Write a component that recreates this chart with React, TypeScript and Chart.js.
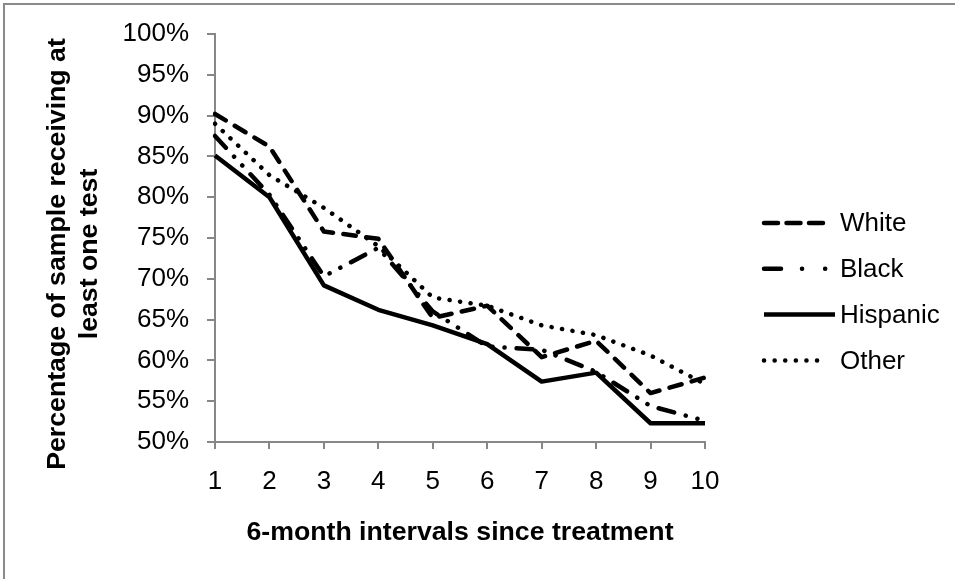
import React, { useEffect, useRef } from "react";
import { Chart, registerables } from "chart.js";

Chart.register(...registerables);

const CATEGORIES = ["1", "2", "3", "4", "5", "6", "7", "8", "9", "10"];
const WHITE = [90.2, 86.2, 75.8, 74.9, 65.2, 66.7, 60.4, 62.4, 56.0, 57.9];
const BLACK = [87.5, 80.3, 70.3, 73.8, 66.0, 61.7, 61.3, 58.6, 54.4, 52.6];
const HISPANIC = [85.1, 80.0, 69.2, 66.2, 64.3, 62.0, 57.4, 58.5, 52.3, 52.3];
const OTHER = [89.0, 82.7, 78.7, 74.0, 67.7, 66.7, 64.3, 63.1, 60.6, 57.1];
const SERIES_NAMES = ["White", "Black", "Hispanic", "Other"];
const Y_MIN = 50;
const Y_MAX = 100;
const Y_STEP = 5;
const X_TITLE = "6-month intervals since treatment";
const Y_TITLE = ["Percentage of sample receiving at", "least one test"];

const FONT = "'Liberation Sans', Arial, Helvetica, sans-serif";
const AXIS_GRAY = "#878787";
const BOLD_SIZE = 26.7;

const DASHES = [[12.5, 10.5], [16, 12, 0.1, 12, 0.1, 12], [], [0.1, 10.5]];
const LEGEND_DASHES = [[14, 8.5], [17, 21, 0.1, 23, 0.1, 23], [], [0.1, 10.5]];
const LEGEND_END = [824, 827, 835, 822];

const sideLegend = {
  id: "sideLegend",
  afterDraw(chart: any) {
    const ctx = chart.ctx;
    const { right, top, bottom } = chart.chartArea;
    chart.data.datasets.forEach((ds: any, i: number) => {
      const y = top + 189 + i * 45.8;
      const x0 = right + 59;
      const x1 = right + (LEGEND_END[i] - 705);
      ctx.save();
      ctx.strokeStyle = "#000";
      ctx.lineWidth = 4.5;
      ctx.lineCap = i === 2 ? "butt" : "round";
      ctx.setLineDash(LEGEND_DASHES[i]);
      ctx.beginPath();
      ctx.moveTo(x0, y);
      ctx.lineTo(x1, y);
      ctx.stroke();
      ctx.setLineDash([]);
      ctx.fillStyle = "#000";
      ctx.font = `26px ${FONT}`;
      ctx.textBaseline = "middle";
      ctx.textAlign = "left";
      ctx.fillText(ds.label, right + 135, y + 1);
      ctx.restore();
    });
    // y-axis title (two lines, rotated)
    ctx.save();
    ctx.fillStyle = "#000";
    ctx.font = `bold ${BOLD_SIZE}px ${FONT}`;
    ctx.textAlign = "center";
    ctx.textBaseline = "middle";
    ctx.translate(57.5, (top + bottom) / 2 + 16);
    ctx.rotate(-Math.PI / 2);
    Y_TITLE.forEach((line, i) => ctx.fillText(line, 0, i * 32));
    ctx.restore();
  },
};

export default function App() {
  const ref = useRef<HTMLCanvasElement | null>(null);

  useEffect(() => {
    if (!ref.current) return;
    const values = [WHITE, BLACK, HISPANIC, OTHER];
    const chart = new Chart(ref.current, {
      type: "line",
      data: {
        labels: CATEGORIES,
        datasets: values.map((v, i) => ({
          label: SERIES_NAMES[i],
          data: v,
          borderColor: "#000",
          backgroundColor: "#000",
          borderWidth: 4.5,
          borderDash: DASHES[i],
          borderCapStyle: i === 2 ? "butt" : "round",
          borderJoinStyle: "round",
          pointRadius: 0,
          pointHoverRadius: 0,
          tension: 0,
          fill: false,
        })) as any,
      },
      options: {
        animation: false,
        responsive: false,
        maintainAspectRatio: false,
        events: [],
        layout: { padding: { left: 0, top: 34, right: 250, bottom: 0 } },
        plugins: {
          legend: { display: false },
          tooltip: { enabled: false },
          title: { display: false },
        },
        scales: {
          x: {
            type: "category",
            offset: false,
            afterFit: (s: any) => {
              s.height = 137;
            },
            grid: {
              display: true,
              drawOnChartArea: false,
              drawTicks: true,
              tickLength: 7,
              color: AXIS_GRAY,
              lineWidth: 2,
              offset: false,
            },
            border: { display: true, color: AXIS_GRAY, width: 2 },
            ticks: {
              color: "#000",
              font: { family: FONT, size: 26 },
              padding: 17,
              maxRotation: 0,
              autoSkip: false,
            },
            title: {
              display: true,
              text: X_TITLE,
              color: "#000",
              font: { family: FONT, size: BOLD_SIZE, weight: "bold" },
              padding: { top: 0, bottom: 30 },
            },
          },
          y: {
            min: Y_MIN,
            max: Y_MAX,
            afterFit: (s: any) => {
              s.width = 215;
            },
            grid: {
              display: true,
              drawOnChartArea: false,
              drawTicks: true,
              tickLength: 8,
              color: AXIS_GRAY,
              lineWidth: 2,
            },
            border: { display: true, color: AXIS_GRAY, width: 2 },
            ticks: {
              stepSize: Y_STEP,
              color: "#000",
              font: { family: FONT, size: 26 },
              padding: 18,
              callback: (v: any) => `${v}%`,
            },
            title: { display: false },
          },
        },
      },
      plugins: [sideLegend],
    } as any);
    return () => chart.destroy();
  }, []);

  return (
    <div style={{ position: "fixed", inset: 0, overflow: "hidden", background: "#fff" }}>
      <div
        style={{
          position: "absolute",
          left: 3,
          top: 3,
          width: 1200,
          height: 1200,
          border: "2px solid #8a8a8a",
          boxSizing: "border-box",
        }}
      />
      <canvas
        ref={ref}
        width={955}
        height={579}
        style={{ position: "absolute", left: 0, top: 0, width: 955, height: 579 }}
      />
    </div>
  );
}
